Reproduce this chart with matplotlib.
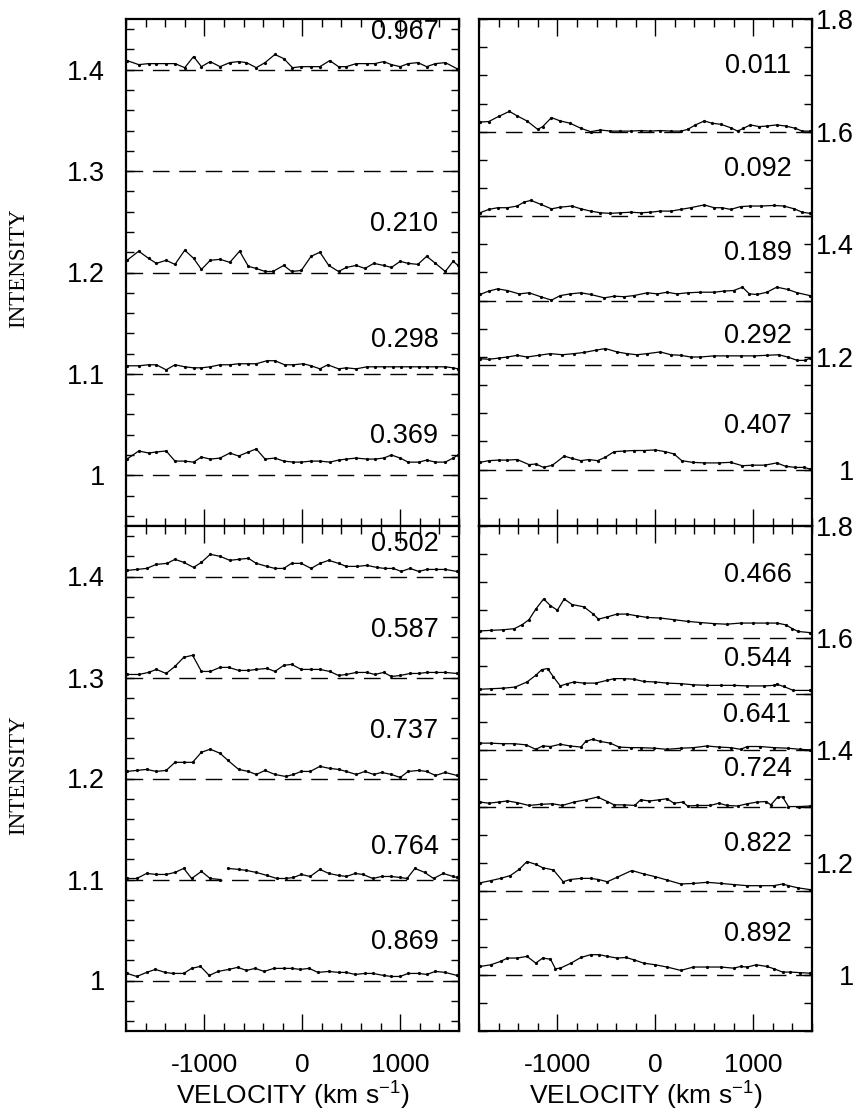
import numpy as np
import matplotlib

matplotlib.use("Agg")

import matplotlib.pyplot as plt
from matplotlib.ticker import FuncFormatter, MultipleLocator

plt.rcParams["font.family"] = ["Liberation Sans", "DejaVu Sans"]
plt.rcParams["mathtext.default"] = "regular"
plt.rcParams["axes.unicode_minus"] = False

# ---- top left panel -------------------------------------------------------
V_0967 = [-1790, -1670, -1570, -1490, -1390, -1300, -1200, -1110, -1030, -940, -840, -740, -650,
          -570, -470, -380, -280, -190, -100, -10, 90, 180, 280, 370, 450, 550, 660, 740, 830,
          910, 1000, 1080, 1180, 1270, 1360, 1460, 1580]
I_0967 = [1.409, 1.405, 1.406, 1.406, 1.406, 1.406, 1.402, 1.413, 1.403, 1.408, 1.403, 1.407, 1.408,
          1.407, 1.402, 1.407, 1.415, 1.411, 1.402, 1.403, 1.403, 1.403, 1.409, 1.403, 1.403, 1.406,
          1.406, 1.406, 1.408, 1.405, 1.403, 1.406, 1.407, 1.403, 1.406, 1.407, 1.401]

V_0210 = [-1790, -1670, -1570, -1490, -1390, -1300, -1200, -1110, -1030, -940, -840, -740, -640,
          -550, -470, -380, -300, -190, -110, -10, 90, 180, 270, 370, 450, 550, 640, 730, 830,
          910, 1000, 1080, 1180, 1270, 1360, 1460, 1540, 1590]
I_0210 = [1.212, 1.221, 1.214, 1.209, 1.212, 1.208, 1.222, 1.214, 1.203, 1.212, 1.213, 1.210, 1.221,
          1.206, 1.204, 1.201, 1.201, 1.207, 1.201, 1.202, 1.216, 1.220, 1.207, 1.201, 1.205, 1.207,
          1.204, 1.209, 1.207, 1.205, 1.211, 1.209, 1.208, 1.216, 1.209, 1.201, 1.211, 1.207]

V_0298 = [-1790, -1670, -1570, -1490, -1390, -1300, -1200, -1110, -1030, -940, -840, -740, -650,
          -550, -470, -360, -280, -180, -90, 10, 90, 180, 260, 370, 450, 550, 660, 740, 830, 930,
          1010, 1100, 1190, 1270, 1370, 1460, 1540, 1590]
I_0298 = [1.108, 1.108, 1.109, 1.109, 1.104, 1.109, 1.107, 1.106, 1.106, 1.107, 1.109, 1.109, 1.110,
          1.110, 1.110, 1.113, 1.113, 1.109, 1.109, 1.110, 1.108, 1.105, 1.109, 1.105, 1.106, 1.105,
          1.107, 1.107, 1.107, 1.107, 1.107, 1.107, 1.107, 1.107, 1.107, 1.107, 1.106, 1.105]

V_0369 = [-1790, -1670, -1570, -1490, -1390, -1300, -1200, -1110, -1030, -940, -840, -740, -650,
          -550, -470, -380, -280, -190, -90, -10, 90, 180, 280, 370, 450, 550, 660, 740, 830, 910,
          1000, 1080, 1190, 1270, 1360, 1460, 1540, 1590]
I_0369 = [1.016, 1.024, 1.022, 1.023, 1.024, 1.014, 1.014, 1.013, 1.018, 1.016, 1.017, 1.022, 1.019,
          1.023, 1.026, 1.016, 1.017, 1.014, 1.013, 1.013, 1.014, 1.014, 1.013, 1.015, 1.016, 1.017,
          1.016, 1.016, 1.017, 1.020, 1.017, 1.013, 1.013, 1.015, 1.013, 1.013, 1.017, 1.020]

# ---- top right panel ------------------------------------------------------
V_0011 = [-1790, -1700, -1600, -1490, -1410, -1310, -1200, -1150, -1060, -970, -870, -760, -660,
          -560, -460, -360, -250, -150, -50, 50, 160, 260, 330, 410, 500, 580, 670, 770, 840, 900,
          970, 1060, 1140, 1240, 1330, 1430, 1500, 1580]
I_0011 = [1.617, 1.618, 1.627, 1.636, 1.628, 1.619, 1.604, 1.609, 1.625, 1.619, 1.615, 1.606, 1.600,
          1.603, 1.601, 1.601, 1.601, 1.602, 1.601, 1.602, 1.601, 1.601, 1.604, 1.612, 1.619, 1.615,
          1.613, 1.607, 1.601, 1.606, 1.612, 1.609, 1.610, 1.612, 1.610, 1.606, 1.601, 1.601]

V_0092 = [-1790, -1700, -1610, -1510, -1410, -1340, -1270, -1170, -1060, -970, -850, -760, -660,
          -560, -460, -360, -250, -150, -50, 50, 160, 260, 360, 500, 600, 680, 770, 870, 970, 1080,
          1210, 1310, 1420, 1500, 1580]
I_0092 = [1.456, 1.462, 1.465, 1.465, 1.468, 1.475, 1.478, 1.471, 1.463, 1.466, 1.468, 1.463, 1.459,
          1.456, 1.455, 1.456, 1.457, 1.456, 1.457, 1.459, 1.459, 1.462, 1.465, 1.470, 1.465, 1.465,
          1.462, 1.467, 1.468, 1.468, 1.469, 1.468, 1.463, 1.457, 1.455]

V_0189 = [-1790, -1700, -1610, -1510, -1390, -1290, -1170, -1060, -970, -870, -760, -660, -520,
          -420, -320, -220, -80, 20, 120, 220, 330, 460, 600, 700, 800, 890, 960, 1040, 1140, 1240,
          1350, 1450, 1580]
I_0189 = [1.311, 1.317, 1.321, 1.318, 1.312, 1.314, 1.307, 1.301, 1.309, 1.312, 1.314, 1.311, 1.305,
          1.308, 1.307, 1.309, 1.314, 1.312, 1.315, 1.312, 1.314, 1.315, 1.315, 1.317, 1.318, 1.324,
          1.312, 1.311, 1.315, 1.324, 1.320, 1.314, 1.309]

V_0292 = [-1790, -1700, -1600, -1510, -1410, -1310, -1190, -1070, -950, -830, -730, -610, -510,
          -390, -290, -190, -80, 50, 160, 260, 360, 460, 600, 730, 870, 1010, 1140, 1260, 1350,
          1450, 1530, 1580]
I_0292 = [1.197, 1.196, 1.198, 1.200, 1.203, 1.200, 1.203, 1.206, 1.204, 1.206, 1.208, 1.212, 1.215,
          1.209, 1.206, 1.204, 1.206, 1.209, 1.204, 1.203, 1.200, 1.200, 1.202, 1.202, 1.202, 1.202,
          1.203, 1.204, 1.200, 1.194, 1.194, 1.198]

V_0407 = [-1790, -1700, -1600, -1510, -1410, -1290, -1220, -1140, -1050, -930, -850, -760, -680,
          -590, -510, -420, -320, -220, -120, 0, 100, 190, 270, 380, 500, 650, 770, 890, 990, 1120,
          1240, 1330, 1430, 1520, 1580]
I_0407 = [1.013, 1.016, 1.017, 1.017, 1.018, 1.009, 1.010, 1.004, 1.008, 1.024, 1.020, 1.016, 1.018,
          1.016, 1.022, 1.032, 1.033, 1.034, 1.034, 1.035, 1.032, 1.028, 1.016, 1.013, 1.012, 1.012,
          1.013, 1.007, 1.008, 1.008, 1.012, 1.006, 1.004, 1.004, 1.001]

# ---- bottom left panel ----------------------------------------------------
V_0502 = [-1790, -1690, -1590, -1490, -1380, -1300, -1210, -1110, -1030, -940, -840, -740, -650,
          -550, -470, -360, -280, -190, -110, -10, 90, 180, 270, 370, 450, 560, 660, 760, 840, 930,
          1010, 1100, 1190, 1270, 1370, 1460, 1580]
I_0502 = [1.406, 1.407, 1.408, 1.412, 1.413, 1.417, 1.414, 1.409, 1.414, 1.422, 1.420, 1.416, 1.417,
          1.418, 1.413, 1.410, 1.408, 1.408, 1.413, 1.413, 1.408, 1.413, 1.416, 1.413, 1.410, 1.410,
          1.411, 1.409, 1.408, 1.408, 1.405, 1.408, 1.405, 1.407, 1.407, 1.407, 1.405]

V_0587 = [-1790, -1670, -1570, -1490, -1390, -1300, -1210, -1120, -1030, -940, -840, -750, -650,
          -550, -470, -360, -280, -190, -110, -10, 90, 180, 280, 370, 450, 550, 660, 740, 830, 910,
          1000, 1100, 1190, 1270, 1370, 1460, 1580]
I_0587 = [1.303, 1.303, 1.305, 1.308, 1.304, 1.311, 1.320, 1.322, 1.306, 1.306, 1.310, 1.310, 1.307,
          1.307, 1.308, 1.309, 1.306, 1.312, 1.313, 1.308, 1.308, 1.308, 1.306, 1.302, 1.303, 1.305,
          1.305, 1.303, 1.305, 1.301, 1.302, 1.304, 1.304, 1.305, 1.305, 1.305, 1.304]

V_0737 = [-1790, -1690, -1590, -1490, -1390, -1300, -1210, -1120, -1030, -940, -840, -760, -650,
          -550, -470, -380, -280, -170, -90, -10, 80, 180, 280, 370, 450, 550, 640, 730, 810, 910,
          1000, 1080, 1190, 1270, 1360, 1460, 1580]
I_0737 = [1.207, 1.208, 1.209, 1.207, 1.208, 1.216, 1.216, 1.216, 1.226, 1.229, 1.225, 1.218, 1.209,
          1.207, 1.204, 1.208, 1.204, 1.202, 1.204, 1.207, 1.207, 1.212, 1.210, 1.209, 1.207, 1.204,
          1.207, 1.204, 1.206, 1.204, 1.201, 1.207, 1.208, 1.207, 1.203, 1.206, 1.203]

# the 0.764 spectrum has a short break near -800 km/s
V_0764 = [-1790, -1690, -1590, -1490, -1390, -1300, -1210, -1130, -1030, -940, -840, np.nan,
          -760, -650, -570, -470, -360, -260, -170, -90, -10, 80, 180, 270, 370, 450, 540, 620,
          720, 810, 910, 1000, 1070, 1150, 1250, 1340, 1440, 1540, 1580]
I_0764 = [1.101, 1.101, 1.106, 1.105, 1.105, 1.107, 1.111, 1.101, 1.108, 1.101, 1.100, np.nan,
          1.111, 1.110, 1.109, 1.107, 1.104, 1.101, 1.101, 1.102, 1.105, 1.103, 1.110, 1.106, 1.104,
          1.103, 1.106, 1.105, 1.101, 1.103, 1.103, 1.102, 1.101, 1.111, 1.107, 1.101, 1.106, 1.103,
          1.102]

V_0869 = [-1790, -1690, -1590, -1500, -1400, -1320, -1210, -1130, -1040, -950, -860, -750, -660,
          -570, -480, -390, -290, -190, -110, -20, 70, 160, 270, 370, 450, 540, 640, 720, 830, 910,
          1000, 1080, 1190, 1270, 1360, 1460, 1580]
I_0869 = [1.007, 1.004, 1.008, 1.011, 1.008, 1.007, 1.007, 1.012, 1.014, 1.005, 1.009, 1.011, 1.013,
          1.010, 1.012, 1.009, 1.012, 1.012, 1.012, 1.011, 1.012, 1.008, 1.009, 1.008, 1.008, 1.006,
          1.007, 1.007, 1.005, 1.004, 1.004, 1.007, 1.007, 1.006, 1.009, 1.008, 1.005]

# ---- bottom right panel ---------------------------------------------------
V_0466 = [-1790, -1680, -1560, -1440, -1360, -1290, -1220, -1140, -1070, -1000, -930, -850, -730,
          -640, -580, -490, -390, -290, -190, -80, 50, 190, 330, 460, 600, 730, 870, 1000, 1140,
          1240, 1330, 1400, 1460, 1580]
I_0466 = [1.613, 1.614, 1.615, 1.617, 1.624, 1.633, 1.652, 1.670, 1.658, 1.650, 1.670, 1.660, 1.656,
          1.644, 1.634, 1.638, 1.643, 1.643, 1.640, 1.637, 1.636, 1.633, 1.630, 1.628, 1.626, 1.625,
          1.627, 1.627, 1.627, 1.627, 1.624, 1.617, 1.612, 1.610]

V_0544 = [-1790, -1680, -1550, -1430, -1310, -1220, -1160, -1100, -1040, -970, -900, -830, -730,
          -610, -490, -420, -320, -220, -120, 0, 120, 260, 390, 530, 670, 800, 940, 1110, 1210,
          1240, 1310, 1410, 1580]
I_0544 = [1.509, 1.510, 1.511, 1.513, 1.522, 1.534, 1.544, 1.546, 1.531, 1.515, 1.519, 1.522, 1.520,
          1.520, 1.525, 1.528, 1.528, 1.527, 1.523, 1.522, 1.520, 1.519, 1.517, 1.516, 1.516, 1.516,
          1.515, 1.515, 1.516, 1.518, 1.514, 1.507, 1.507]

V_0641 = [-1790, -1680, -1560, -1440, -1320, -1220, -1150, -1070, -970, -870, -760, -710, -640,
          -560, -460, -370, -250, -150, -10, 120, 260, 390, 530, 650, 770, 870, 940, 1070, 1210,
          1350, 1480, 1580]
I_0641 = [1.413, 1.413, 1.412, 1.412, 1.410, 1.402, 1.408, 1.407, 1.411, 1.408, 1.406, 1.416, 1.420,
          1.416, 1.413, 1.406, 1.405, 1.405, 1.404, 1.402, 1.404, 1.405, 1.408, 1.406, 1.405, 1.402,
          1.407, 1.407, 1.405, 1.404, 1.402, 1.401]

V_0724 = [-1790, -1700, -1600, -1510, -1410, -1290, -1170, -1050, -950, -830, -710, -590, -490,
          -420, -320, -210, -150, -60, 40, 120, 190, 280, 330, 430, 560, 650, 730, 840, 940, 1040,
          1130, 1180, 1250, 1300, 1360, 1470, 1580]
I_0724 = [1.308, 1.306, 1.308, 1.310, 1.307, 1.302, 1.304, 1.305, 1.302, 1.308, 1.312, 1.317, 1.309,
          1.303, 1.303, 1.302, 1.312, 1.310, 1.312, 1.314, 1.306, 1.308, 1.301, 1.302, 1.302, 1.306,
          1.302, 1.301, 1.305, 1.308, 1.309, 1.303, 1.317, 1.317, 1.300, 1.300, 1.301]

V_0822 = [-1790, -1680, -1580, -1480, -1390, -1310, -1220, -1150, -1040, -940, -870, -760, -660,
          -580, -490, -390, -240, -120, 0, 120, 260, 390, 530, 670, 800, 940, 1070, 1210, 1300,
          1360, 1460, 1580]
I_0822 = [1.164, 1.168, 1.172, 1.177, 1.188, 1.202, 1.197, 1.191, 1.187, 1.166, 1.170, 1.172, 1.172,
          1.170, 1.166, 1.174, 1.186, 1.180, 1.175, 1.169, 1.162, 1.163, 1.165, 1.163, 1.161, 1.159,
          1.159, 1.159, 1.162, 1.159, 1.155, 1.152]

V_0892 = [-1790, -1680, -1580, -1510, -1410, -1310, -1220, -1150, -1070, -1020, -970, -860, -760,
          -660, -570, -490, -390, -300, -220, -120, 0, 120, 260, 390, 530, 670, 800, 870, 940, 1030,
          1140, 1210, 1300, 1380, 1480, 1580]
I_0892 = [1.015, 1.018, 1.024, 1.030, 1.030, 1.033, 1.021, 1.030, 1.028, 1.011, 1.012, 1.021, 1.031,
          1.036, 1.036, 1.033, 1.030, 1.031, 1.027, 1.021, 1.018, 1.014, 1.008, 1.014, 1.014, 1.014,
          1.012, 1.015, 1.014, 1.018, 1.015, 1.011, 1.005, 1.005, 1.004, 1.003]

# continuum levels (dashed) and phase labels per panel
BASE_TL = [1.4, 1.3, 1.2, 1.1, 1.0]
BASE_TR = [1.6, 1.45, 1.3, 1.185, 1.0]
BASE_BL = [1.4, 1.3, 1.2, 1.1, 1.0]
BASE_BR = [1.6, 1.5, 1.4, 1.3, 1.15, 1.0]

PHASE_TL = ["0.967", "0.210", "0.298", "0.369"]
PHASE_TL_Y = [1.437, 1.248, 1.133, 1.039]
PHASE_TR = ["0.011", "0.092", "0.189", "0.292", "0.407"]
PHASE_TR_Y = [1.717, 1.533, 1.385, 1.238, 1.078]
PHASE_BL = ["0.502", "0.587", "0.737", "0.764", "0.869"]
PHASE_BL_Y = [1.432, 1.347, 1.247, 1.132, 1.038]
PHASE_BR = ["0.466", "0.544", "0.641", "0.724", "0.822", "0.892"]
PHASE_BR_Y = [1.712, 1.563, 1.463, 1.367, 1.233, 1.073]

PHASE_X = 1390
XLIM = (-1800, 1600)
LEFT_YLIM = (0.95, 1.45)
RIGHT_YLIM = (0.9, 1.8)
LEFT_YTICKS = [1.0, 1.1, 1.2, 1.3, 1.4]
RIGHT_YTICKS = [1.0, 1.2, 1.4, 1.6, 1.8]

W, H = 857, 1115


def _fmt(value, _pos):
    return f"{value:g}"


def _panel(fig, box, spectra, baselines, phases, phase_y, right_side, bottom_row):
    x0, y0, x1, y1 = box
    ax = fig.add_axes([x0 / W, 1 - y1 / H, (x1 - x0) / W, (y1 - y0) / H])
    for base in baselines:
        ax.axhline(base, color="black", lw=1.0, linestyle=(0, (12, 7)), zorder=1)
    for velocity, intensity in spectra:
        ax.plot(velocity, intensity, color="black", lw=0.9, marker=".", ms=2.6, zorder=2)
    for text, ypos in zip(phases, phase_y):
        ax.text(PHASE_X, ypos, text, ha="right", va="center", fontsize=19.5)

    ax.set_xlim(*XLIM)
    ax.xaxis.set_major_locator(MultipleLocator(1000))
    ax.xaxis.set_minor_locator(MultipleLocator(200))
    ax.tick_params(axis="x", which="both", direction="in", top=True, bottom=True,
                   labelbottom=bottom_row, labelsize=19, pad=16, width=1.0)
    ax.tick_params(axis="x", which="major", length=12.5)
    ax.tick_params(axis="x", which="minor", length=6)

    if right_side:
        ax.set_ylim(*RIGHT_YLIM)
        ax.set_yticks(RIGHT_YTICKS)
        ax.yaxis.set_minor_locator(MultipleLocator(0.05))
        ax.tick_params(axis="y", which="both", direction="in", left=True, right=True,
                       labelleft=False, labelright=True, labelsize=19.5, pad=30, width=1.0, length=6)
        for lab in ax.get_yticklabels():
            lab.set_horizontalalignment("right")
    else:
        ax.set_ylim(*LEFT_YLIM)
        ax.set_yticks(LEFT_YTICKS)
        ax.yaxis.set_minor_locator(MultipleLocator(0.02))
        ax.tick_params(axis="y", which="both", direction="in", left=True, right=True,
                       labelleft=True, labelright=False, labelsize=19.5, pad=15, width=1.0, length=6)
    ax.yaxis.set_major_formatter(FuncFormatter(_fmt))

    for spine in ax.spines.values():
        spine.set_linewidth(1.6)
    if bottom_row:
        fig.text((x0 + x1) / 2 / W, 1 - 1080 / H, r"VELOCITY (km s$^{-1}$)",
                 ha="center", va="top", fontsize=19)
    return ax


fig = plt.figure(figsize=(W / 100, H / 100), dpi=100)

_panel(fig, (126, 19, 459, 526),
       [(V_0967, I_0967), (V_0210, I_0210), (V_0298, I_0298), (V_0369, I_0369)],
       BASE_TL, PHASE_TL, PHASE_TL_Y, right_side=False, bottom_row=False)
_panel(fig, (479, 19, 812, 526),
       [(V_0011, I_0011), (V_0092, I_0092), (V_0189, I_0189), (V_0292, I_0292), (V_0407, I_0407)],
       BASE_TR, PHASE_TR, PHASE_TR_Y, right_side=True, bottom_row=False)
_panel(fig, (126, 526, 459, 1031),
       [(V_0502, I_0502), (V_0587, I_0587), (V_0737, I_0737), (V_0764, I_0764), (V_0869, I_0869)],
       BASE_BL, PHASE_BL, PHASE_BL_Y, right_side=False, bottom_row=True)
_panel(fig, (479, 526, 812, 1031),
       [(V_0466, I_0466), (V_0544, I_0544), (V_0641, I_0641), (V_0724, I_0724), (V_0822, I_0822),
        (V_0892, I_0892)],
       BASE_BR, PHASE_BR, PHASE_BR_Y, right_side=True, bottom_row=True)

for ycenter in (268, 775):
    fig.text(19 / W, 1 - ycenter / H, "INTENSITY", rotation=90, ha="center", va="center",
             fontsize=16.5, family=["Liberation Serif", "DejaVu Serif"])

fig.savefig("out.png", dpi=100)
